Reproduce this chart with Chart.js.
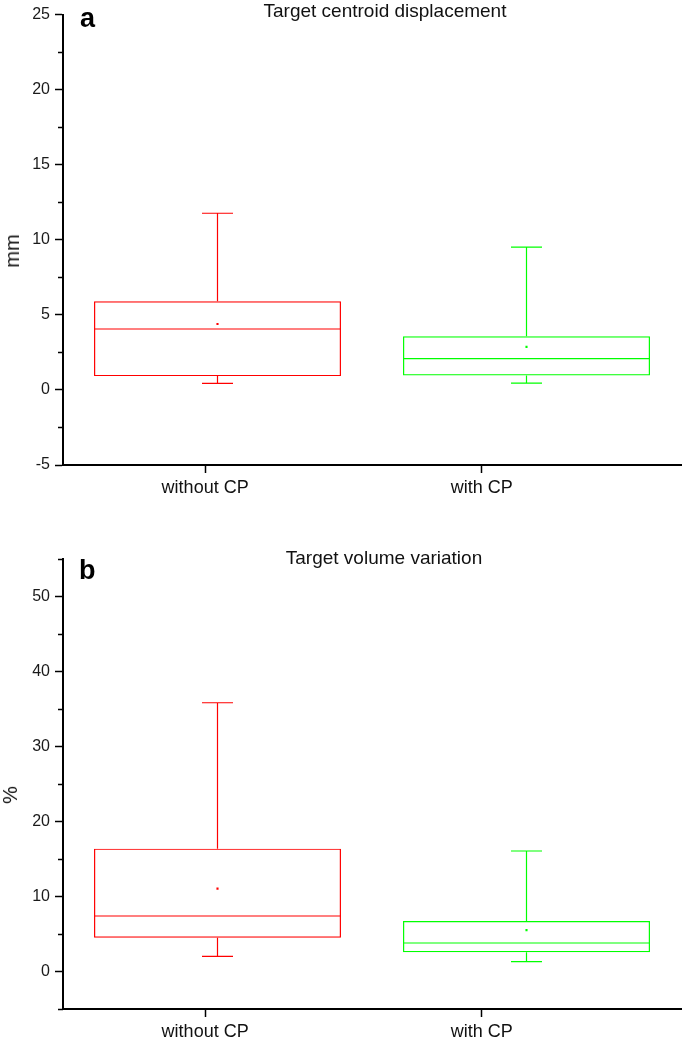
<!DOCTYPE html>
<html>
<head>
<meta charset="utf-8">
<script src="https://cdn.jsdelivr.net/npm/chart.js@4.4.0/dist/chart.umd.min.js"></script>
<style>
  body { margin: 0; background: #fff; overflow: hidden; font-family: "Liberation Sans", Arial, sans-serif; }
  #page { position: relative; width: 685px; height: 1039px; overflow: hidden; }
  .panel { position: absolute; left: 0; width: 685px; height: 500px; }
  .title { position: absolute; font-size: 19px; line-height: 1; color: #111; white-space: nowrap; transform: translateX(-50%); }
  .letter { position: absolute; font-size: 27px; line-height: 1; font-weight: bold; color: #000; }
  .ytitle { position: absolute; font-size: 20px; line-height: 1; color: #111; white-space: nowrap; transform: translate(-50%, -50%) rotate(-90deg); }
</style>
</head>
<body>
<div id="page">
  <div class="panel" style="top:0"><canvas id="chartA"></canvas></div>
  <div class="panel" style="top:544px"><canvas id="chartB"></canvas></div>

  <div class="title" style="left:385px;top:1px">Target centroid displacement</div>
  <div class="letter" style="left:80px;top:5px">a</div>
  <div class="ytitle" style="left:12px;top:251px">mm</div>

  <div class="title" style="left:384px;top:548px">Target volume variation</div>
  <div class="letter" style="left:79px;top:557px">b</div>
  <div class="ytitle" style="left:10px;top:795px">%</div>
</div>

<script>
// groups
var groups = ["without CP", "with CP"];
var groupColors = ["#ff0000", "#00ff00"];
var groupTickPos = [-0.04, 0.855];

// panel a - target centroid displacement (mm)
var dispLow = [0.44, 0.46];
var dispQ1 = [0.92, 0.96];
var dispMedian = [4.06, 2.08];
var dispQ3 = [5.91, 3.58];
var dispHigh = [11.77, 9.51];
var dispMean = [4.39, 2.87];
var dispTicks = [-5, 0, 5, 10, 15, 20, 25];
var dispMinor = [-2.5, 2.5, 7.5, 12.5, 17.5, 22.5];

// panel b - target volume variation (%)
var volLow = [2.02, 1.32];
var volQ1 = [4.49, 2.55];
var volMedian = [7.39, 3.79];
var volQ3 = [16.36, 6.73];
var volHigh = [35.8, 16.05];
var volMean = [11.04, 5.5];
var volTicks = [0, 10, 20, 30, 40, 50];
var volMinor = [-5, 5, 15, 25, 35, 45, 55];

var capHalf = 15.5;

function whiskerPlugin(st) {
  return {
    id: 'whiskers',
    afterDatasetsDraw: function(chart) {
      var xs = chart.scales.x, ys = chart.scales.y;
      var meta = chart.getDatasetMeta(0);
      var ctx = chart.ctx;
      ctx.save();
      ctx.lineWidth = 1.2;
      groups.forEach(function(g, i) {
        var cx = xs.getPixelForValue(i);
        var half = meta.data[i].width / 2;
        var yLow = ys.getPixelForValue(st.low[i]);
        var yHigh = ys.getPixelForValue(st.high[i]);
        var yMed = ys.getPixelForValue(st.median[i]);
        ctx.strokeStyle = groupColors[i];
        ctx.beginPath();
        ctx.moveTo(cx - half, yMed); ctx.lineTo(cx + half, yMed);
        ctx.moveTo(cx, ys.getPixelForValue(st.q3[i])); ctx.lineTo(cx, yHigh);
        ctx.moveTo(cx, ys.getPixelForValue(st.q1[i])); ctx.lineTo(cx, yLow);
        ctx.moveTo(cx - capHalf, yHigh); ctx.lineTo(cx + capHalf, yHigh);
        ctx.moveTo(cx - capHalf, yLow); ctx.lineTo(cx + capHalf, yLow);
        ctx.stroke();
      });
      // minor ticks on the y axis
      ctx.strokeStyle = '#000';
      ctx.lineWidth = 1.5;
      ctx.beginPath();
      st.minor.forEach(function(v) {
        var y = Math.round(ys.getPixelForValue(v)) + 0.5;
        ctx.moveTo(chart.chartArea.left - 5, y);
        ctx.lineTo(chart.chartArea.left, y);
      });
      ctx.stroke();
      ctx.restore();
    }
  };
}

function makeChart(id, st) {
  var ctx = document.getElementById(id).getContext('2d');
  return new Chart(ctx, {
    type: 'bar',
    data: {
      datasets: [{
        type: 'bar',
        data: groups.map(function(g, i) { return { x: i, y: [st.q1[i], st.q3[i]] }; }),
        backgroundColor: 'rgba(0,0,0,0)',
        borderColor: groupColors,
        borderWidth: 1.2,
        borderSkipped: false,
        barPercentage: 0.893,
        categoryPercentage: 1
      }, {
        type: 'scatter',
        data: groups.map(function(g, i) { return { x: i, y: st.mean[i] }; }),
        pointStyle: 'rect',
        pointRadius: 1.5,
        pointBorderWidth: 0,
        pointBackgroundColor: groupColors,
        pointBorderColor: groupColors
      }]
    },
    options: {
      responsive: true,
      maintainAspectRatio: false,
      animation: false,
      layout: { padding: { top: 10, right: 0, left: 0, bottom: 0 } },
      plugins: { legend: { display: false }, tooltip: { enabled: false } },
      scales: {
        x: {
          type: 'linear',
          min: -0.5,
          max: 1.5,
          offset: false,
          afterBuildTicks: function(s) { s.ticks = groupTickPos.map(function(v) { return { value: v }; }); },
          afterFit: function(s) { s.height = 35; },
          border: { color: '#000', width: 2 },
          grid: { drawOnChartArea: false, offset: false, drawTicks: true, tickLength: 8, tickColor: '#000', tickWidth: 1.5 },
          ticks: {
            color: '#111',
            padding: 4,
            maxRotation: 0,
            autoSkip: false,
            font: { size: 18, family: 'Liberation Sans' },
            callback: function(v, idx) { return groups[idx]; }
          }
        },
        y: {
          min: st.min,
          max: st.max,
          afterBuildTicks: function(s) { s.ticks = st.ticks.map(function(v) { return { value: v }; }); },
          afterFit: function(s) { s.width = 63; },
          border: { color: '#000', width: 2 },
          grid: { drawOnChartArea: false, drawTicks: true, tickLength: 8, tickColor: '#000', tickWidth: 1.5 },
          ticks: { color: '#1a1a1a', padding: 5, font: { size: 16, family: 'Liberation Sans' } }
        }
      }
    },
    plugins: [whiskerPlugin(st)]
  });
}

makeChart('chartA', {
  low: dispLow, q1: dispQ1, median: dispMedian, q3: dispQ3, high: dispHigh, mean: dispMean,
  ticks: dispTicks, minor: dispMinor, min: -5, max: 25
});
makeChart('chartB', {
  low: volLow, q1: volQ1, median: volMedian, q3: volQ3, high: volHigh, mean: volMean,
  ticks: volTicks, minor: volMinor, min: -5, max: 55
});
</script>
</body>
</html>
